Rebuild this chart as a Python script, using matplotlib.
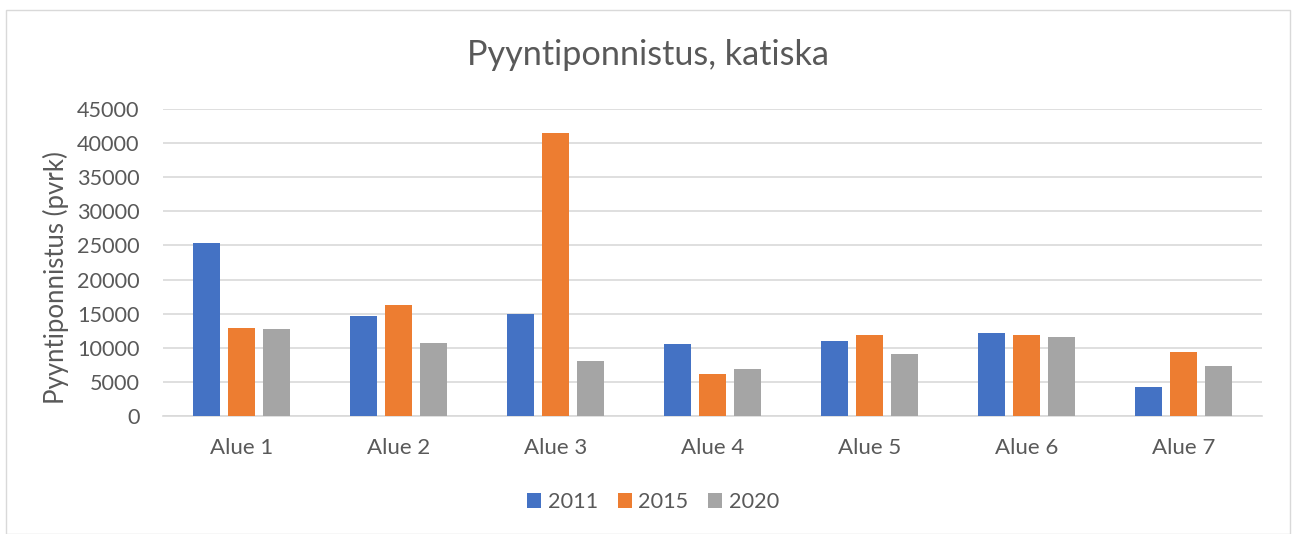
import matplotlib
matplotlib.use("Agg")
import matplotlib.pyplot as plt
import numpy as np
from matplotlib.patches import Rectangle

categories = ["Alue 1", "Alue 2", "Alue 3", "Alue 4", "Alue 5", "Alue 6", "Alue 7"]
years = ["2011", "2015", "2020"]
v2011 = [25300, 14700, 14980, 10600, 10950, 12170, 4180]
v2015 = [12950, 16220, 41450, 6200, 11840, 11880, 9440]
v2020 = [12760, 10710, 8100, 6930, 9150, 11540, 7350]
yticks = [0, 5000, 10000, 15000, 20000, 25000, 30000, 35000, 40000, 45000]

colors = ["#4472C4", "#ED7D31", "#A5A5A5"]
txt = "#595959"
plt.rcParams['font.family'] = ['Lato', 'DejaVu Sans']

fig = plt.figure(figsize=(12.92, 5.34), dpi=100)
fig.patches.append(Rectangle((6/1292, 0), 1284/1292, 1 - 10/534, transform=fig.transFigure,
                             fill=False, edgecolor="#D9D9D9", linewidth=1))
ax = fig.add_axes([163/1292, (534-416)/534, (1262-163)/1292, (416-109)/534])

x = np.arange(len(categories))
stride = 0.221
w = 0.172
for i, (vals, c, lab) in enumerate(zip([v2011, v2015, v2020], colors, years)):
    ax.bar(x + (i-1)*stride, vals, width=w, color=c, label=lab, zorder=3)

ax.set_xlim(-0.5, len(categories)-0.5)
ax.set_ylim(0, 45000)
ax.set_yticks(yticks)
ax.set_yticklabels([str(t) for t in yticks])
ax.set_xticks(x)
ax.set_xticklabels(categories)
ax.yaxis.grid(True, color="#D9D9D9", linewidth=1.2, zorder=0)
ax.set_axisbelow(True)
for s in ["top", "right", "left"]:
    ax.spines[s].set_visible(False)
ax.spines["bottom"].set_color("#D9D9D9")
ax.spines["bottom"].set_linewidth(1.2)
ax.tick_params(axis="both", length=0, labelsize=15.6, colors=txt)
ax.tick_params(axis="y", pad=17)
ax.tick_params(axis="x", labelsize=16, pad=16)
ax.set_ylabel("Pyyntiponnistus (pvrk)", fontsize=18.5, color=txt)
ax.yaxis.set_label_coords((69-163)/(1262-163), (416-278)/(416-109))

fig.text(648/1292, 1 - 55/534, "Pyyntiponnistus, katiska", ha="center", va="center",
         fontsize=24.7, color=txt)

leg = fig.legend(loc="center", bbox_to_anchor=(653/1292, 1 - 502/534), ncol=3,
                 frameon=False, fontsize=15.6, handlelength=0.65, handleheight=0.65,
                 handletextpad=0.3, columnspacing=0.92)
for t in leg.get_texts():
    t.set_color(txt)

fig.savefig("out.png", dpi=100)
